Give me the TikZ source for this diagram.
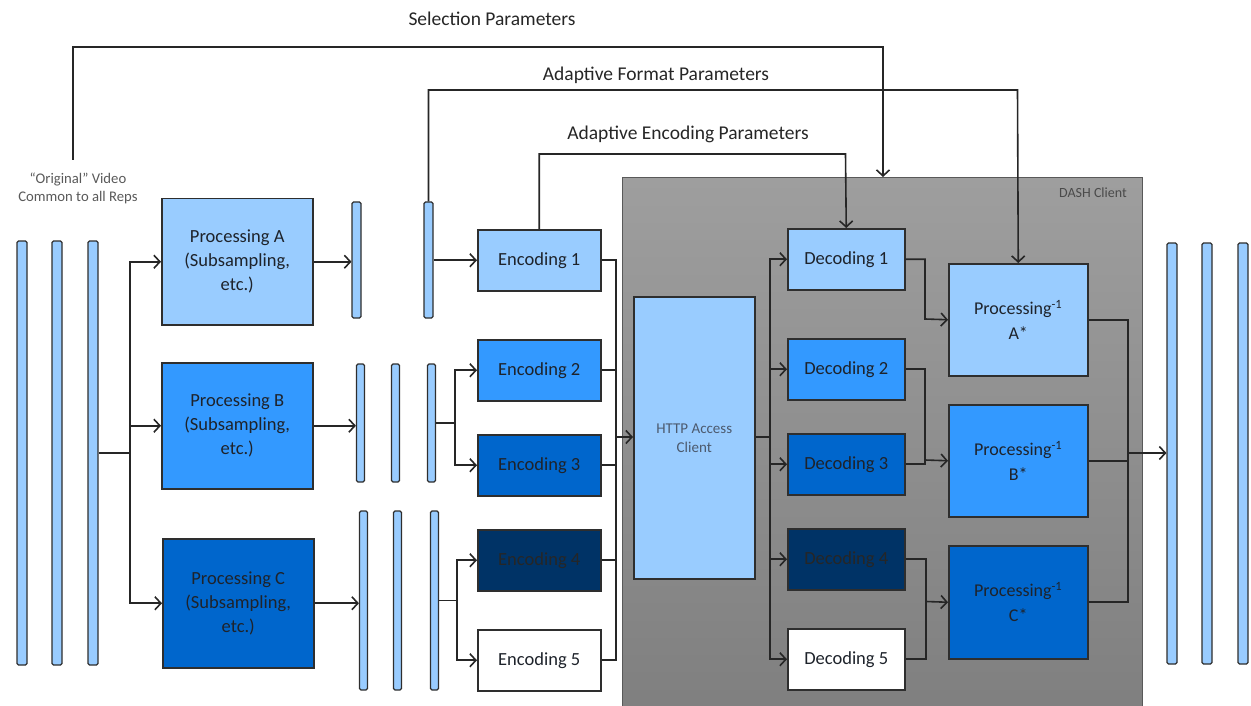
\documentclass[tikz,border=0pt]{standalone}
\usepackage{fontspec}
\setmainfont{Carlito}
\usetikzlibrary{arrows.meta}
\definecolor{lblue}{HTML}{99CCFF}
\definecolor{mblue}{HTML}{3399FF}
\definecolor{dblue}{HTML}{0066CC}
\definecolor{navy}{HTML}{003366}
\definecolor{linec}{HTML}{262626}
\definecolor{boxline}{HTML}{2E2E2E}
\definecolor{txt}{HTML}{1E232B}
\definecolor{httptxt}{HTML}{4C5A6E}
\definecolor{dashtxt}{HTML}{4A4A4A}
\begin{document}
\begin{tikzpicture}[x=1pt,y=-1pt,
  conn/.style={draw=linec,line width=1.6pt},
  arr/.style={conn,-{Straight Barb[length=6pt,width=13pt]}},
  blk/.style={draw=boxline,line width=1.5pt,anchor=north west,inner sep=2pt,align=center,text=txt,font=\fontsize{18.5}{24}\selectfont},
  bar/.style={draw=boxline,line width=1.1pt,fill=lblue,rounded corners=1.5pt,minimum width=9pt,inner sep=0pt},
  lab/.style={text=linec,font=\fontsize{19.5}{22}\selectfont}]
\useasboundingbox (0,0) rectangle (1251,706);
% DASH client area
\node[anchor=north west,draw=gray!70!black,line width=1pt,top color=black!38,bottom color=black!50,minimum width=520pt,minimum height=529pt,inner sep=0pt] (dash) at (622,177) {};
\node[text=dashtxt,font=\fontsize{14}{16}\selectfont] (dashlab) at (1093,193) {DASH Client};
% original video bars
\node[bar,minimum width=10pt,minimum height=424pt] (v1) at (22,453) {};
\node[bar,minimum width=10pt,minimum height=424pt] (v2) at (57,453) {};
\node[bar,minimum width=10pt,minimum height=424pt] (v3) at (93,453) {};
\node[text=black!65,align=center,font=\fontsize{14.7}{18}\selectfont] (orig) at (78,188) {“Original” Video\\Common to all Reps};
% processing blocks
\node[blk,fill=lblue,minimum width=151pt,minimum height=126pt] (pa) at (161,198) {Processing A\\(Subsampling,\\etc.)};
\node[blk,fill=mblue,minimum width=151pt,minimum height=126pt] (pb) at (161,362) {Processing B\\(Subsampling,\\etc.)};
\node[blk,fill=dblue,minimum width=151pt,minimum height=129pt] (pc) at (162,538) {Processing C\\(Subsampling,\\etc.)};
% intermediate bars
\node[bar,minimum height=116pt] (a1) at (356.5,260) {};
\node[bar,minimum height=116pt] (a2) at (428.5,260) {};
\node[bar,minimum width=8pt,minimum height=118pt] (b1) at (360.5,423) {};
\node[bar,minimum width=8pt,minimum height=118pt] (b2) at (395.5,423) {};
\node[bar,minimum width=8pt,minimum height=118pt] (b3) at (431.5,423) {};
\node[bar,minimum width=8pt,minimum height=179pt] (c1) at (363.5,600.5) {};
\node[bar,minimum width=8pt,minimum height=179pt] (c2) at (397.5,600.5) {};
\node[bar,minimum width=8pt,minimum height=179pt] (c3) at (434.5,600.5) {};
% encodings
\node[blk,fill=lblue,minimum width=123pt,minimum height=61pt] (e1) at (477,229) {Encoding 1};
\node[blk,fill=mblue,minimum width=123pt,minimum height=61pt] (e2) at (477,339) {Encoding 2};
\node[blk,fill=dblue,minimum width=123pt,minimum height=61pt] (e3) at (477,434) {Encoding 3};
\node[blk,fill=navy,minimum width=123pt,minimum height=61pt,text=black!85] (e4) at (477,529) {Encoding 4};
\node[blk,fill=white,minimum width=123pt,minimum height=61pt] (e5) at (477,629) {Encoding 5};
% HTTP client
\node[blk,fill=lblue,minimum width=121pt,minimum height=282pt,text=httptxt,font=\fontsize{15}{19}\selectfont] (http) at (633,296) {HTTP Access\\Client};
% decodings
\node[blk,fill=lblue,minimum width=117pt,minimum height=61pt] (d1) at (787,228) {Decoding 1};
\node[blk,fill=mblue,minimum width=117pt,minimum height=61pt] (d2) at (787,338) {Decoding 2};
\node[blk,fill=dblue,minimum width=117pt,minimum height=61pt] (d3) at (787,433) {Decoding 3};
\node[blk,fill=navy,minimum width=117pt,minimum height=61pt,text=black!85] (d4) at (787,528) {Decoding 4};
\node[blk,fill=white,minimum width=117pt,minimum height=61pt] (d5) at (787,628) {Decoding 5};
% inverse processing
\node[blk,fill=lblue,minimum width=139pt,minimum height=112pt,font=\fontsize{18}{25}\selectfont] (pia) at (948,263) {Processing\textsuperscript{-1}\\A*};
\node[blk,fill=mblue,minimum width=139pt,minimum height=112pt,font=\fontsize{18}{25}\selectfont] (pib) at (948,404) {Processing\textsuperscript{-1}\\B*};
\node[blk,fill=dblue,minimum width=139pt,minimum height=113pt,font=\fontsize{18}{25}\selectfont] (pic) at (948,545) {Processing\textsuperscript{-1}\\C*};
% output bars
\node[bar,minimum width=10pt,minimum height=421pt] (r1) at (1172,453.5) {};
\node[bar,minimum width=10pt,minimum height=421pt] (r2) at (1207,453.5) {};
\node[bar,minimum width=10pt,minimum height=421pt] (r3) at (1243,453.5) {};
% labels of parameter lines
\node[lab] (selL) at (492,19) {Selection Parameters};
\node[lab] (fmtL) at (656,75) {Adaptive Format Parameters};
\node[lab] (encL) at (688,134) {Adaptive Encoding Parameters};
% coordinates
\coordinate (selstart) at (73,160);
\coordinate (selmid) at (883,47);
\coordinate (fmtmid) at (1017.5,90);
\coordinate (encmid) at (845.5,154);
\coordinate (split) at (130,453);
\coordinate (splitB) at (455,423);
\coordinate (splitC) at (457,600.5);
\coordinate (mE) at (616,437);
\coordinate (sD) at (770,437);
\coordinate (mA) at (925,319);
\coordinate (mB) at (925,460);
\coordinate (mC) at (926,601.5);
\coordinate (mR) at (1128,453);
% parameter lines
\draw[arr] (selstart) |- (selmid) -- (selmid |- dash.north);
\draw[arr] (a2.north) |- (fmtmid) -- (pia.north);
\draw[arr] (e1.north) |- (encmid) -- (d1.north);
% original to processing
\draw[conn] (v3.east) -- (split);
\draw[arr] (split) |- (pa.west);
\draw[arr] (split) |- (pb.west);
\draw[arr] (split) |- (pc.west);
% processing to bars
\draw[arr] (pa.east) -- (pa.east -| a1.west);
\draw[arr] (pb.east) -- (pb.east -| b1.west);
\draw[arr] (pc.east) -- (pc.east -| c1.west);
% bars to encodings
\draw[arr] (a2.east |- e1.west) -- (e1.west);
\draw[conn] (b3.east) -- (splitB);
\draw[arr] (splitB) |- (e2.west);
\draw[arr] (splitB) |- (e3.west);
\draw[conn] (c3.east |- splitC) -- (splitC);
\draw[arr] (splitC) |- (e4.west);
\draw[arr] (splitC) |- (e5.west);
% encodings to HTTP client
\foreach \n in {e1,e2,e3,e4,e5} \draw[conn] (\n.east) -| (mE);
\draw[arr] (mE) -- (http.west |- mE);
% HTTP to decodings
\draw[conn] (http.east |- sD) -- (sD);
\foreach \n in {d1,d2,d3,d4,d5} \draw[arr] (sD) |- (\n.west);
% decodings to inverse processing
\draw[arr] (d1.east) -| (mA) -- (pia.west);
\draw[conn] (d2.east) -| (mB);
\draw[conn] (d3.east) -| (mB);
\draw[arr] (mB) -- (pib.west);
\draw[conn] (d4.east) -| (mC);
\draw[conn] (d5.east) -| (mC);
\draw[arr] (mC) -- (pic.west);
% inverse processing to output
\foreach \n in {pia,pib,pic} \draw[conn] (\n.east) -| (mR);
\draw[arr] (mR) -- (r1.west |- mR);
\end{tikzpicture}
\end{document}
